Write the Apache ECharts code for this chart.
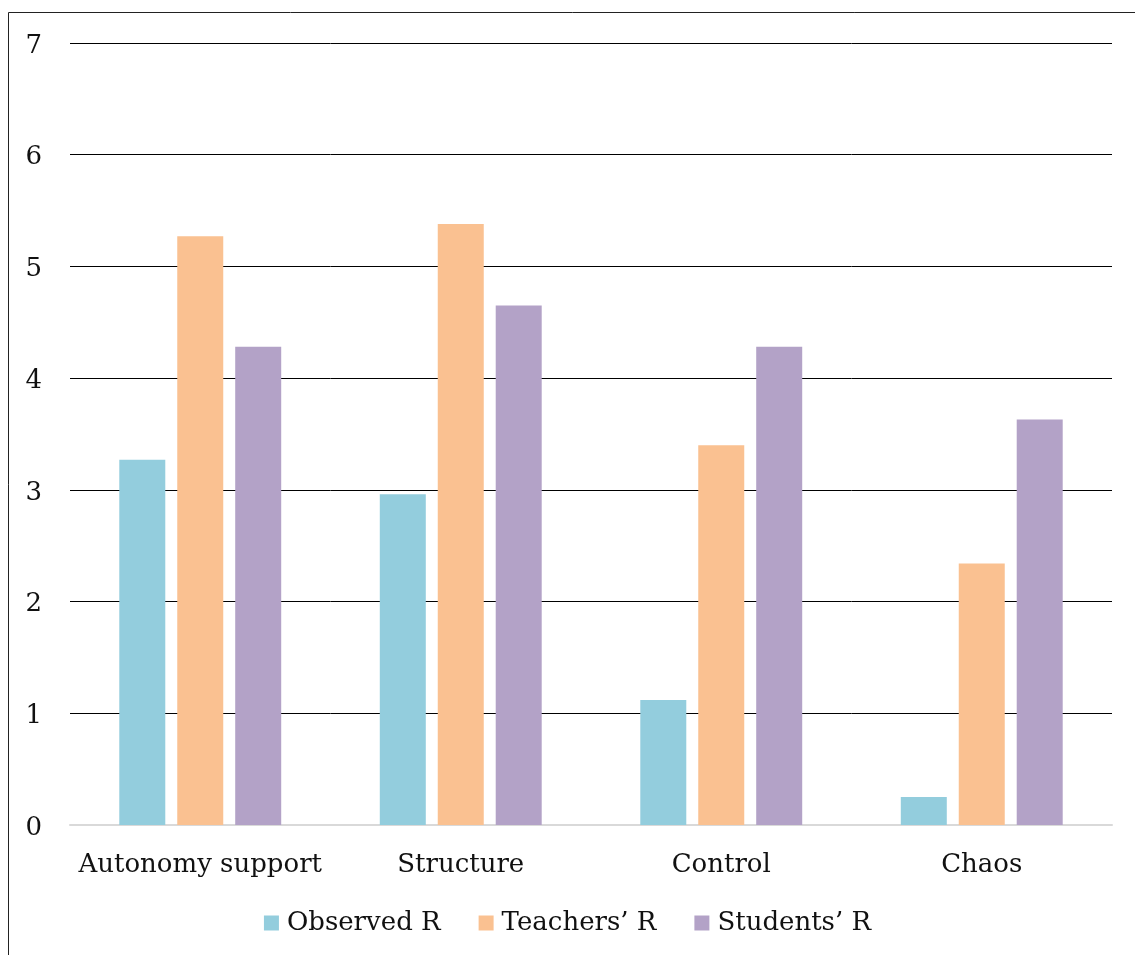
<!DOCTYPE html>
<html>
<head>
<meta charset="utf-8">
<script src="https://cdn.jsdelivr.net/npm/echarts@6/dist/echarts.min.js"></script>
<style>
  html, body { margin: 0; padding: 0; background: #fff; }
  #chart { width: 1135px; height: 955px; }
</style>
</head>
<body>
<div id="chart"></div>
<script>
// Dimensions of classroom climate, rated three ways
const categories = ['Autonomy support', 'Structure', 'Control', 'Chaos'];
const observedR = [3.27, 2.96, 1.12, 0.25];
const teachersR = [5.27, 5.38, 3.40, 2.34];
const studentsR = [4.28, 4.65, 4.28, 3.63];
const seriesNames = ['Observed R', 'Teachers\u2019 R', 'Students\u2019 R'];
const seriesColors = ['#93CDDD', '#FAC191', '#B3A2C7'];

const FONT = '"DejaVu Serif", "Liberation Serif", serif';

const chart = echarts.init(document.getElementById('chart'), null, { renderer: 'canvas' });

const values = [observedR, teachersR, studentsR];

chart.setOption({
  backgroundColor: '#fff',
  animation: false,
  textStyle: { fontFamily: FONT },
  graphic: [{
    type: 'rect',
    shape: { x: 8.5, y: 12.5, width: 1200, height: 1000 },
    style: { fill: 'none', stroke: '#222', lineWidth: 1 },
    silent: true
  }],
  grid: { left: 70, right: 23, top: 43, bottom: 130, containLabel: false },
  legend: {
    bottom: 14,
    left: 'center',
    itemWidth: 15,
    itemHeight: 15,
    itemGap: 38,
    icon: 'rect',
    formatter: '{t|{name}}',
    textStyle: {
      fontFamily: FONT, fontSize: 26, color: '#111',
      rich: { t: { fontFamily: FONT, fontSize: 26, color: '#111', padding: [0, 0, 0, 3] } }
    },
    data: seriesNames
  },
  xAxis: {
    type: 'category',
    data: categories,
    axisLine: { show: true, lineStyle: { color: '#D9D9D9', width: 2 } },
    axisTick: { show: false },
    axisLabel: { fontFamily: FONT, fontSize: 26, color: '#111', margin: 27, interval: 0 },
    splitLine: { show: false }
  },
  yAxis: {
    type: 'value',
    min: 0,
    max: 7,
    interval: 1,
    axisLine: { show: false },
    axisTick: { show: false },
    axisLabel: {
      fontFamily: FONT, fontSize: 26, color: '#111', margin: 28, align: 'right',
      formatter: '{v|{value}}',
      rich: { v: { fontFamily: FONT, fontSize: 26, color: '#111', padding: [6, 0, 0, 0] } }
    },
    splitLine: { show: true, lineStyle: { color: '#000', width: 1 } }
  },
  series: seriesNames.map((name, i) => ({
    name: name,
    type: 'bar',
    data: values[i],
    barWidth: 46,
    barGap: '26%',
    itemStyle: { color: seriesColors[i] },
    z: 3
  }))
});
</script>
</body>
</html>
